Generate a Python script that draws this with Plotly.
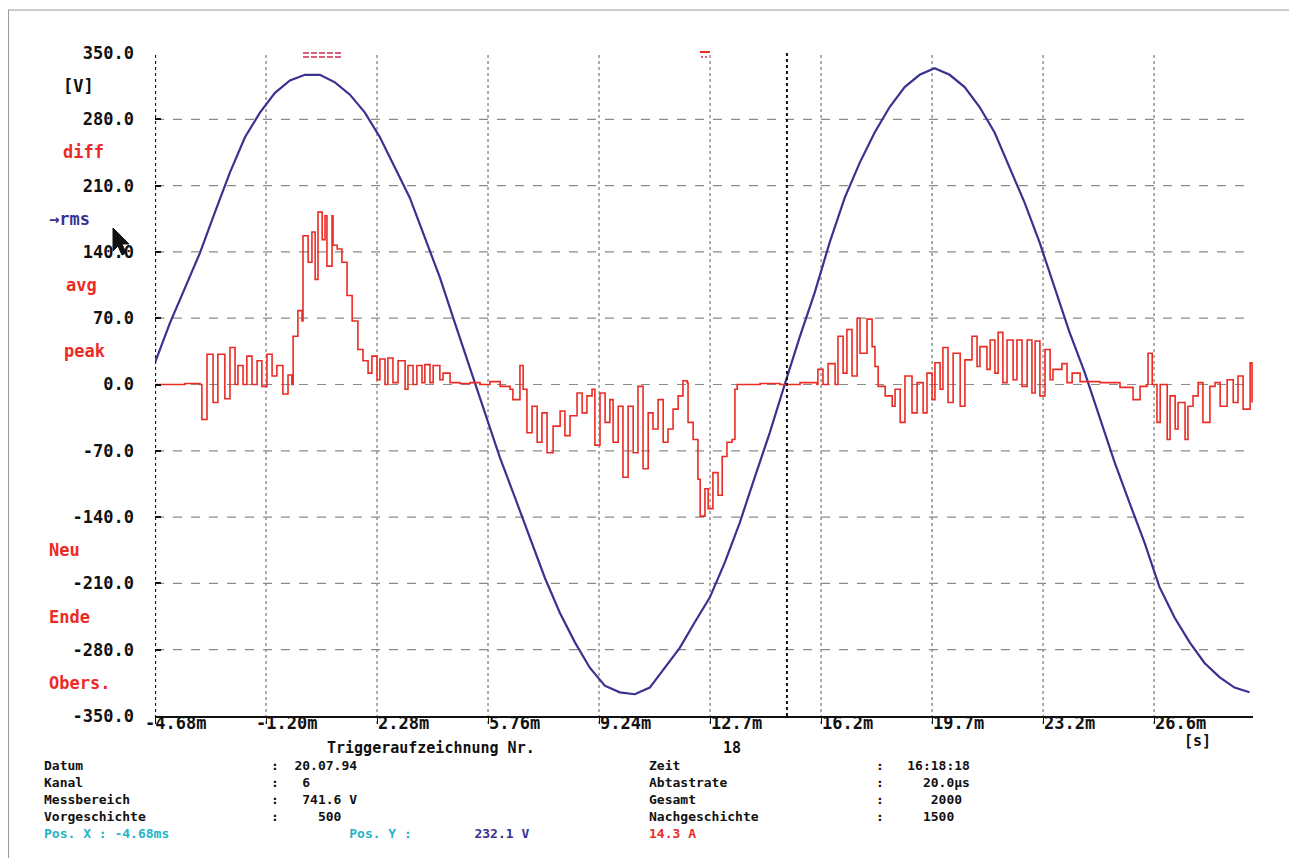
import plotly.graph_objects as go

# ---------------- data ----------------
# time axis in ms
blue_t = [-4.68, -4.21, -3.74, -3.27, -2.80, -2.33, -1.86, -1.39, -0.92, -0.45,
          0.02, 0.49, 0.96, 1.43, 1.90, 2.37, 2.84, 3.31, 3.78, 4.25,
          4.72, 5.19, 5.66, 6.13, 6.60, 7.07, 7.54, 8.01, 8.48, 8.95,
          9.42, 9.89, 10.36, 10.83, 11.30, 11.77, 12.24, 12.71, 13.18, 13.65,
          14.12, 14.59, 15.06, 15.53, 16.00, 16.47, 16.94, 17.41, 17.88, 18.35,
          18.82, 19.29, 19.76, 20.23, 20.70, 21.17, 21.64, 22.11, 22.58, 23.05,
          23.52, 23.99, 24.46, 24.93, 25.40, 25.87, 26.34, 26.81, 27.28, 27.75,
          28.22, 28.69, 29.16, 29.63]
blue_v = [23, 65, 102, 139, 182, 224, 261, 287, 308, 321,
          327, 327, 319, 306, 287, 261, 229, 197, 155, 113,
          65, 18, -30, -77, -119, -162, -204, -241, -272, -299,
          -318, -325, -327, -320, -299, -278, -251, -225, -188, -146,
          -98, -51, 0, 50, 97, 150, 197, 234, 266, 293,
          314, 327, 334, 327, 314, 293, 266, 229, 192, 150,
          102, 55, 13, -35, -82, -125, -167, -214, -246, -272,
          -294, -309, -320, -325]

red_t = [-4.68, -4.21, -3.74, -3.27, -3.21, -3.05, -2.86, -2.71, -2.49, -2.33,
         -2.17, -2.08, -1.92, -1.80, -1.64, -1.48, -1.33, -1.17, -1.01, -0.86,
         -0.67, -0.51, -0.39, -0.35, -0.20, -0.07, -0.04, 0.12, 0.24, 0.34,
         0.43, 0.56, 0.65, 0.71, 0.87, 0.90, 1.03, 1.18, 1.34, 1.50,
         1.68, 1.84, 2.00, 2.12, 2.28, 2.37, 2.53, 2.62, 2.78, 2.94,
         3.16, 3.25, 3.41, 3.53, 3.69, 3.78, 3.94, 4.04, 4.25, 4.35,
         4.57, 4.88, 5.20, 5.51, 5.82, 6.14, 6.45, 6.54, 6.76, 6.86,
         6.98, 7.14, 7.30, 7.45, 7.61, 7.80, 8.02, 8.17, 8.33, 8.55,
         8.71, 8.86, 9.02, 9.11, 9.27, 9.43, 9.58, 9.68, 9.84, 9.99,
         10.15, 10.31, 10.46, 10.62, 10.78, 10.93, 11.09, 11.25, 11.40, 11.56,
         11.72, 11.87, 12.00, 12.03, 12.19, 12.34, 12.41, 12.56, 12.66, 12.81,
         12.97, 13.10, 13.25, 13.41, 13.50, 13.57, 14.29, 14.91, 15.54, 16.07,
         16.10, 16.26, 16.42, 16.64, 16.73, 16.89, 17.01, 17.17, 17.33, 17.42,
         17.64, 17.80, 17.89, 17.99, 18.21, 18.43, 18.52, 18.68, 18.83, 19.05,
         19.21, 19.40, 19.52, 19.68, 19.77, 19.93, 20.02, 20.18, 20.34, 20.56,
         20.71, 20.93, 21.09, 21.18, 21.40, 21.50, 21.65, 21.75, 21.90, 22.03,
         22.22, 22.34, 22.50, 22.66, 22.81, 22.91, 23.06, 23.22, 23.38, 23.47,
         23.75, 23.91, 24.07, 24.32, 24.94, 25.57, 25.98, 26.20, 26.42, 26.45,
         26.58, 26.73, 26.83, 27.05, 27.14, 27.30, 27.39, 27.61, 27.70, 27.86,
         28.02, 28.17, 28.39, 28.55, 28.71, 28.93, 29.12, 29.27, 29.43, 29.65,
         29.71]
red_v = [0, 0, 1, 0, -37, 32, -19, 32, -15, 39,
         0, 20, 0, 30, 0, 25, -2, 32, 9, 20,
         -10, 10, 0, 51, 78, 67, 157, 129, 161, 111,
         182, 153, 178, 125, 178, 147, 143, 129, 94, 67,
         37, 25, 12, 30, 5, 27, 0, 28, 2, 25,
         -5, 20, 0, 20, 2, 21, 2, 20, 5, 12,
         2, 1, 2, 0, 3, -2, -5, -16, 20, -5,
         -51, -23, -61, -30, -72, -44, -28, -54, -33, -9,
         -30, -12, -5, -64, -9, -40, -16, -61, -23, -98,
         -23, -72, -2, -89, -30, -47, -16, -61, -47, -26,
         -12, 4, 2, -40, -58, -100, -139, -110, -131, -93,
         -117, -76, -61, -58, -5, 0, 1, 0, 2, 0,
         16, 0, 22, 0, 51, 12, 58, 9, 70, 33,
         69, 40, 19, -2, -12, -23, -5, -40, 9, -30,
         2, -30, 12, -16, 23, -5, 39, -19, 33, -23,
         26, 51, 19, 40, 16, 47, 12, 55, 2, 47,
         5, 47, -2, 47, -9, 46, -12, 37, 5, 16,
         22, 2, 12, 3, 2, -3, -16, -2, 0, 33,
         0, -40, 0, -58, -12, -47, -19, -58, -23, -12,
         2, -40, -2, 2, -23, 5, -19, 9, -26, 23,
         -19]

x_ticks = [-4.68, -1.20, 2.28, 5.76, 9.24, 12.72, 16.20, 19.68, 23.16, 26.64]
x_labels = ["-4.68m", "-1.20m", "2.28m", "5.76m", "9.24m", "12.7m", "16.2m", "19.7m", "23.2m", "26.6m"]
y_ticks = [-350, -280, -210, -140, -70, 0, 70, 140, 210, 280, 350]
y_labels = ["-350.0", "-280.0", "-210.0", "-140.0", "-70.0", "0.0", "70.0", "140.0", "210.0", "280.0", "350.0"]
cursor_t = 15.13

side_labels = ["[V]", "diff", "\u2192rms", "avg", "peak", "Neu", "Ende", "Obers."]
side_pos = [315, 245, 175, 105, 35, -175, -245, -315]

info_left = [("Datum", "20.07.94"), ("Kanal", "6"), ("Messbereich", "741.6 V"), ("Vorgeschichte", "500")]
info_right = [("Zeit", "16:18:18"), ("Abtastrate", "20.0\u00b5s"), ("Gesamt", "2000"), ("Nachgeschichte", "1500")]
pos_x, pos_y, pos_i = "-4.68ms", "232.1 V", "14.3 A"
title_text, record_no = "Triggeraufzeichnung Nr.", "18"

# ---------------- styling ----------------
FONT = "DejaVu Sans Mono"
BLACK = "#111111"
RED = "#ec2b24"
BLUE = "#3a3290"
CYAN = "#27b3c6"
GRID = "#8a8a8a"
OFF = 8                      # page body margin
W, H = 1297 - 2 * OFF, 866 - 2 * OFF
PX0, PX1, PY0, PY1 = 155, 1253, 53, 716   # plot area in page pixels
L, R, T, B = PX0 - OFF, W - (PX1 - OFF), PY0 - OFF, H - (PY1 - OFF)
PW, PH = PX1 - PX0, PY1 - PY0
NB = "\u00a0"


def px(xp):
    return (xp - PX0) / PW


def py(yp):
    return (PY1 - yp) / PH


fig = go.Figure()
fig.add_trace(go.Scatter(x=blue_t, y=blue_v, mode="lines",
                         line=dict(color=BLUE, width=2.2), showlegend=False))
fig.add_trace(go.Scatter(x=red_t, y=red_v, mode="lines", line_shape="hv",
                         line=dict(color=RED, width=1.6), showlegend=False))

shapes = []
for v in y_ticks[1:-1]:
    shapes.append(dict(type="line", xref="x", yref="y", x0=x_ticks[0], x1=29.74, y0=v, y1=v,
                       line=dict(color=GRID, width=1.2, dash="dash"), layer="below"))
for t in x_ticks[1:]:
    shapes.append(dict(type="line", xref="x", yref="paper", x0=t, x1=t, y0=-0.012, y1=1,
                       line=dict(color=GRID, width=1.4, dash="dot"), layer="below"))
shapes.append(dict(type="line", xref="x", yref="paper", x0=x_ticks[0], x1=x_ticks[0], y0=-0.012, y1=1,
                   line=dict(color=BLACK, width=2.2, dash="dot")))
shapes.append(dict(type="line", xref="x", yref="paper", x0=cursor_t, x1=cursor_t, y0=0, y1=1,
                   line=dict(color=BLACK, width=2, dash="dot")))
# frame
shapes.append(dict(type="line", xref="paper", yref="paper", x0=px(8.5), x1=px(8.5), y0=py(10), y1=py(866),
                   line=dict(color="#9a9a9a", width=1)))
shapes.append(dict(type="line", xref="paper", yref="paper", x0=px(8), x1=px(1290), y0=py(10), y1=py(10),
                   line=dict(color="#9a9a9a", width=1)))
# top trigger markers
for yy in (53, 57):
    shapes.append(dict(type="line", xref="paper", yref="paper", x0=px(303), x1=px(341), y0=py(yy), y1=py(yy),
                       line=dict(color="#d9607c", width=2, dash="6px,2px")))
shapes.append(dict(type="line", xref="paper", yref="paper", x0=px(700), x1=px(710), y0=py(52), y1=py(52),
                   line=dict(color=RED, width=2)))
shapes.append(dict(type="line", xref="paper", yref="paper", x0=px(701), x1=px(709), y0=py(57), y1=py(57),
                   line=dict(color="#d9607c", width=2, dash="2px,2px")))
# mouse pointer
pts = [(113, 228), (113, 251), (118, 246), (122, 255), (126, 253), (122, 244), (129, 244)]
path = "M " + " L ".join(f"{px(a):.5f},{py(b):.5f}" for a, b in pts) + " Z"
shapes.append(dict(type="path", xref="paper", yref="paper", path=path,
                   fillcolor=BLACK, line=dict(color=BLACK, width=1)))

annotations = []


def font(size, color=BLACK):
    return dict(family=FONT, size=size, color=color, weight="bold")


def ann(text, xp, yp, color=BLACK, anchor="left", size=15, yanchor="middle"):
    annotations.append(dict(text=text, xref="paper", yref="paper", x=px(xp), y=py(yp),
                            xanchor=anchor, yanchor=yanchor, align="left", showarrow=False,
                            borderpad=0, font=font(size, color)))


for t, lab in zip(x_ticks, x_labels):
    annotations.append(dict(text=lab, xref="x", yref="paper", x=t, y=py(723),
                            xanchor="left", yanchor="middle", showarrow=False, borderpad=0,
                            xshift=-11 if lab.startswith("-") else 0, font=font(17)))

side_x = [62, 62, 48, 65, 63, 48, 48, 48]
side_c = [BLACK, RED, BLUE, RED, RED, RED, RED, RED]
for lab, v, xx, cc in zip(side_labels, side_pos, side_x, side_c):
    annotations.append(dict(text=lab, xref="paper", yref="y", x=px(xx), y=v,
                            xanchor="left", yanchor="middle", showarrow=False, borderpad=0,
                            font=font(17, cc)))

ann("[s]", 1183, 741, size=15)
ann(title_text.replace(" ", NB), 326, 748, size=15)
ann(record_no, 722, 748, size=15)

FS = 13
CW = 0.602 * FS


def col(x0, x):
    return int(round((x - x0) / CW))


def pad(s, n):
    return s + NB * max(1, n - len(s))


left_vals_x = [290, 302, 302, 316]
lines = []
for (a, b), vx in zip(info_left, left_vals_x):
    s = pad(a, col(43, 271)) + ":"
    s = pad(s, col(43, vx)) + b
    lines.append(s.replace(" ", NB))
p1 = pad("Pos." + NB + "X" + NB + ":" + NB + pos_x, col(43, 345))
p2 = pad("Pos." + NB + "Y" + NB + ":", col(345, 470))
lines.append(f'<span style="color:{CYAN}">{p1}{p2}</span>'
             f'<span style="color:{BLUE}">{pos_y.replace(" ", NB)}</span>')
ann("<br>".join(lines), 43, 757, size=FS, yanchor="top")

right_vals_x = [908, 922, 928, 922]
lines = []
for (a, b), vx in zip(info_right, right_vals_x):
    s = pad(a, col(648, 876)) + ":"
    s = pad(s, col(648, vx)) + b
    lines.append(s.replace(" ", NB))
lines.append(f'<span style="color:{RED}">{pos_i.replace(" ", NB)}</span>')
ann("<br>".join(lines), 648, 757, size=FS, yanchor="top")

fig.update_layout(
    width=W, height=H,
    margin=dict(l=L, r=R, t=T, b=B),
    paper_bgcolor="white", plot_bgcolor="white",
    showlegend=False,
    shapes=shapes, annotations=annotations,
    xaxis=dict(range=[-4.68, 29.74], tickvals=x_ticks, showticklabels=False,
               showgrid=False, zeroline=False, showline=True, linecolor=BLACK, linewidth=2,
               ticks="outside", ticklen=6, tickcolor=BLACK, tickwidth=1),
    yaxis=dict(range=[-350, 350], tickvals=y_ticks, ticktext=y_labels,
               showgrid=False, zeroline=False, showline=False,
               ticks="inside", ticklen=6, tickcolor=BLACK, tickwidth=1.5,
               ticklabelstandoff=20, tickfont=font(17)),
)

fig.write_html("out.html")
